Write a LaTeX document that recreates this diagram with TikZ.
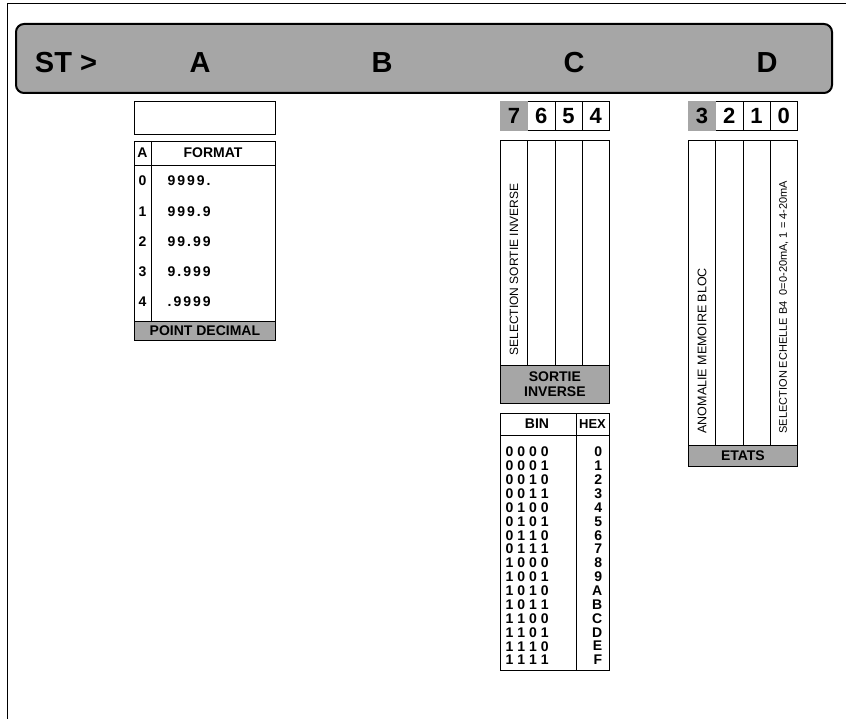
\documentclass[tikz,border=0pt]{standalone}
\usepackage{fontspec}
\setmainfont{Liberation Sans}
\newfontfamily\spacedfont[LetterSpace=14]{Liberation Sans}
\usetikzlibrary{positioning,calc}

\begin{document}
\begin{tikzpicture}[x=1pt, y=-1pt, line width=0.8pt,
  shade/.style={fill=black!35},
  bitcell/.style={draw, anchor=north west, inner sep=0pt,
    minimum width=27.25pt, minimum height=29pt,
    font=\fontsize{22}{22}\selectfont\bfseries},
  column/.style={draw, anchor=north west, inner sep=0pt, minimum width=27.25pt},
  band/.style={draw, shade, anchor=north west, inner sep=0pt, align=center,
    font=\fontsize{14}{15}\selectfont\bfseries},
  vlabel/.style={rotate=90, anchor=west, inner sep=0pt},
  cellfont/.style={font=\fontsize{14}{14}\selectfont\bfseries},
  head/.style={anchor=base, font=\fontsize{29}{29}\selectfont\bfseries}]
\useasboundingbox (0,0) rectangle (846,719);
% frame
\draw (7,719) -- (7,3) -- (846,3);

% banner
\node[draw, shade, line width=2pt, rounded corners=8pt, anchor=north west,
  minimum width=816pt, minimum height=69pt] (banner) at (15,23) {};
\node[head] (st) at (66,73) {ST >};
\node[head] (fa) at (200,73) {A};
\node[head] (fb) at (382,73) {B};
\node[head] (fc) at (574,73) {C};
\node[head] (fd) at (767,73) {D};

% A: point decimal
\node[draw, anchor=north west, minimum width=141pt, minimum height=33pt,
  inner sep=0pt] (blank) at (134,101) {};
\node[draw, anchor=north west, minimum width=141pt, minimum height=180pt,
  inner sep=0pt] (fmt) at (134,141) {};
\draw (fmt.north west) ++(0,24) coordinate (hl) -- (hl -| fmt.east);
\draw (fmt.north west) ++(17,0) coordinate (vt) -- ++(0,180) coordinate (vb);
\node[cellfont] (ahead) at (142.5,153) {A};
\node[cellfont] (fhead) at (213,153) {FORMAT};
\foreach \v/\f [count=\i from 0] in {0/9999., 1/999.9, 2/99.99, 3/9.999, 4/.9999} {
  \node[cellfont] (n\i) at (142.5,181+30.2*\i) {\v};
  \node[anchor=west, font=\fontsize{14}{14}\spacedfont\bfseries] (f\i)
    at (164,181+30.2*\i) {\f};
}
\node[band, minimum width=141pt, minimum height=19pt] (pdec) at (134,321)
  {POINT DECIMAL};

% C: bits 7..4
\foreach \b [count=\k from 0] in {7,6,5,4} {
  \node[bitcell] (bit\b) at (500+27.25*\k,101) {\b};
  \node[column, minimum height=225pt] (col\b) at (500+27.25*\k,140) {};
}
\fill[black!35] (bit7.north west) rectangle (bit7.south east);
\node[bitcell, draw=none] at (bit7.north west) {7};
\node[band, minimum width=109pt, minimum height=38pt] (sortie) at (500,365)
  {SORTIE\\INVERSE};
\node[vlabel, font=\fontsize{12}{12}\selectfont] (lsi)
  at ($(col7.south)+(0,-10)$) {SELECTION SORTIE INVERSE};

% bin / hex
\node[draw, anchor=north west, minimum width=109pt, minimum height=257pt,
  inner sep=0pt] (conv) at (500,413) {};
\draw (conv.north west) ++(0,22) coordinate (ch) -- (ch -| conv.east);
\draw (conv.north west) ++(76,0) coordinate (cv) -- ++(0,257);
\node[cellfont] (bin) at (537,424) {BIN};
\node[font=\fontsize{13}{13}\selectfont\bfseries] (hex) at (592.5,424) {HEX};
\foreach \b/\h [count=\i from 0] in {0 0 0 0/0, 0 0 0 1/1, 0 0 1 0/2, 0 0 1 1/3,
    0 1 0 0/4, 0 1 0 1/5, 0 1 1 0/6, 0 1 1 1/7, 1 0 0 0/8, 1 0 0 1/9,
    1 0 1 0/A, 1 0 1 1/B, 1 1 0 0/C, 1 1 0 1/D, 1 1 1 0/E, 1 1 1 1/F} {
  \node[anchor=west, cellfont] (b\i) at (502,452+13.87*\i) {\b};
  \node[anchor=east, cellfont] (h\i) at (606,452+13.87*\i) {\h};
}

% D: bits 3..0
\foreach \b [count=\k from 0] in {3,2,1,0} {
  \node[bitcell] (bit\b) at (688+27.25*\k,101) {\b};
  \node[column, minimum height=305pt] (col\b) at (688+27.25*\k,140) {};
}
\fill[black!35] (bit3.north west) rectangle (bit3.south east);
\node[bitcell, draw=none] at (bit3.north west) {3};
\node[band, minimum width=109pt, minimum height=21pt] (etats) at (688,445)
  {ETATS};
\node[vlabel, font=\fontsize{12.5}{12}\selectfont] (lam)
  at ($(col3.south)+(0,-12)$) {ANOMALIE MEMOIRE BLOC};
\node[vlabel, font=\fontsize{11}{11}\selectfont] (lse)
  at ($(col0.south)+(0,-12)$) {SELECTION ECHELLE B4\ \ 0=0-20mA, 1 = 4-20mA};
\end{tikzpicture}
\end{document}
